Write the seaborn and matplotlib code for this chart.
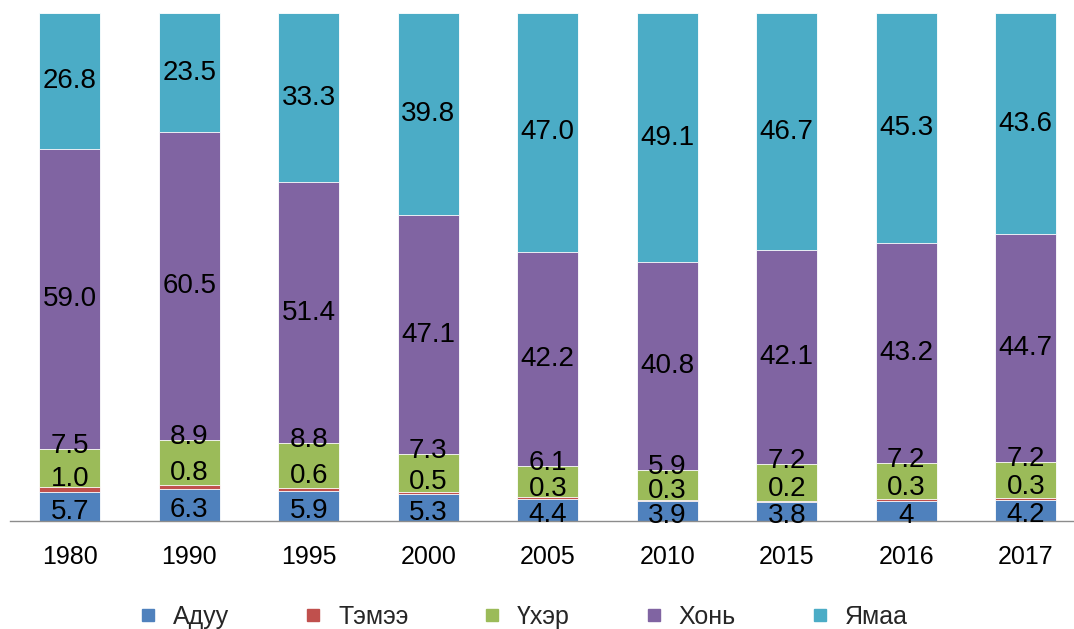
import matplotlib
matplotlib.use("Agg")
import matplotlib.pyplot as plt
from matplotlib.lines import Line2D
import numpy as np
import pandas as pd
import seaborn as sns

years = ["1980", "1990", "1995", "2000", "2005", "2010", "2015", "2016", "2017"]
species = ["Адуу", "Тэмээ", "Үхэр", "Хонь", "Ямаа"]
aduu = [5.7, 6.3, 5.9, 5.3, 4.4, 3.9, 3.8, 4, 4.2]
temee = [1.0, 0.8, 0.6, 0.5, 0.3, 0.3, 0.2, 0.3, 0.3]
ukher = [7.5, 8.9, 8.8, 7.3, 6.1, 5.9, 7.2, 7.2, 7.2]
khon = [59.0, 60.5, 51.4, 47.1, 42.2, 40.8, 42.1, 43.2, 44.7]
yamaa = [26.8, 23.5, 33.3, 39.8, 47.0, 49.1, 46.7, 45.3, 43.6]
aduu_labels = ["5.7", "6.3", "5.9", "5.3", "4.4", "3.9", "3.8", "4", "4.2"]
colors = ["#4F81BD", "#C0504D", "#9BBB59", "#8064A2", "#4BACC6"]

sns.set_theme(style="white")
plt.rcParams["font.family"] = ["Liberation Sans", "DejaVu Sans"]

series = [aduu, temee, ukher, khon, yamaa]
vals = np.array(series)
cum = np.cumsum(vals, axis=0)

fig = plt.figure(figsize=(10.74, 6.29), dpi=100)
ax = fig.add_axes([10 / 1074, 108 / 629, 1075.5 / 1074, 508 / 629])

# draw cumulative stacks from top down so each lower layer overlays
for i in range(len(species) - 1, -1, -1):
    df = pd.DataFrame({"year": years, "value": cum[i]})
    sns.barplot(data=df, x="year", y="value", color=colors[i], width=0.51,
                edgecolor="white", linewidth=0.6, saturation=1, ax=ax,
                order=years, errorbar=None)

ax.set_xlim(-0.5, len(years) - 0.5)
ax.set_ylim(0, 100)
ax.set_xlabel("")
ax.set_ylabel("")
ax.set_yticks([])
for s in ["top", "left", "right"]:
    ax.spines[s].set_visible(False)
ax.spines["bottom"].set_color("#8C8C8C")
ax.spines["bottom"].set_linewidth(1.0)
ax.tick_params(axis="x", length=0, pad=17, labelsize=18, labelcolor="#000000")

fs = 20
for j in range(len(years)):
    h, c, k, s_, g = vals[:, j]
    ax.text(j, cum[3, j] + g / 2, f"{g:.1f}", ha="center", va="center", fontsize=fs, color="black")
    ax.text(j, cum[2, j] + s_ / 2, f"{s_:.1f}", ha="center", va="center", fontsize=fs, color="black")
    y_cattle = cum[2, j] + 0.6
    y_horse = h / 2 - 1.0
    y_camel = (y_cattle + y_horse) / 2
    ax.text(j, y_cattle, f"{k:.1f}", ha="center", va="center", fontsize=fs, color="black")
    ax.text(j, y_camel, f"{c:.1f}", ha="center", va="center", fontsize=fs, color="black")
    ax.text(j, y_horse, aduu_labels[j], ha="center", va="center", fontsize=fs, color="black")

handles = [Line2D([0], [0], marker="s", linestyle="none", markersize=8,
                  markerfacecolor=col, markeredgecolor=col) for col in colors]
fig.legend(handles, species, loc="center", bbox_to_anchor=(523 / 1074, 12 / 629),
           ncol=5, frameon=False, fontsize=18, handlelength=0.8, handletextpad=0.6,
           columnspacing=2.95, borderpad=0)

fig.savefig("out.png", dpi=100)
